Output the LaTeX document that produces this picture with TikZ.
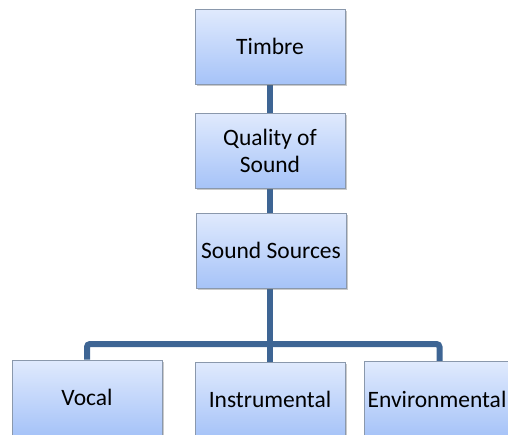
\documentclass[tikz,border=0pt]{standalone}
\usepackage{fontspec}
\setmainfont{Carlito}
\usetikzlibrary{shadows,backgrounds}
\definecolor{boxtop}{HTML}{E0EAFD}
\definecolor{boxbot}{HTML}{A6C3F8}
\definecolor{boxline}{HTML}{8A98AC}
\definecolor{connc}{HTML}{3E6594}
\begin{document}
\begin{tikzpicture}[x=1pt,y=-1pt,
  box/.style={draw=boxline, line width=1pt, top color=boxtop, bottom color=boxbot,
    minimum width=150pt, minimum height=75pt, inner sep=0pt, align=center,
    font=\fontsize{23.5}{27}\selectfont,
    drop shadow={shadow xshift=2pt, shadow yshift=-2pt, opacity=0.35, fill=black!60}},
  link/.style={draw=connc, line width=6pt}]
\path[use as bounding box] (0,0) rectangle (508,434);
\clip (0,0) rectangle (508,434);
\node[box] (timbre) at (270,46.5) {Timbre};
\node[box] (quality) at (270,150.5) {Quality of\\Sound};
\node[box] (sources) at (271,250.5) {Sound Sources};
\node[box] (vocal) at (87,397.5) {Vocal};
\node[box] (instr) at (270,399.5) {Instrumental};
\node[box, align=none] (env) at (439.5,399) {Environmental\kern5pt};
\coordinate (barmid) at (270,344);
\begin{scope}[on background layer]
\draw[link] (timbre.south) -- (quality.north);
\draw[link] (quality.south) -- (quality.south |- sources.north);
\draw[link] (sources.south -| instr.north) -- (instr.north);
\draw[link, rounded corners=3pt] (vocal.north) |- (barmid) -| (env.north);
\end{scope}
\end{tikzpicture}
\end{document}
